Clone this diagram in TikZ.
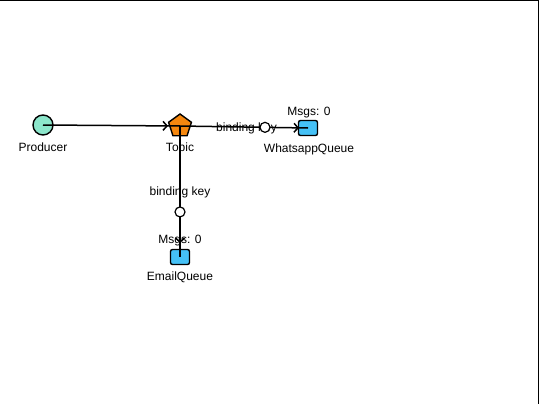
\documentclass[tikz,border=0pt]{standalone}
\usepackage{fontspec}
\setmainfont{Liberation Sans}
\usetikzlibrary{shapes.geometric,arrows.meta,decorations.markings}
\definecolor{prodfill}{HTML}{8CE6CB}
\definecolor{topicfill}{HTML}{F5870F}
\definecolor{queuefill}{HTML}{45C1F6}
\begin{document}
\begin{tikzpicture}[x=1pt,y=-1pt,
	every node/.style={font=\fontsize{12}{14}\selectfont},
	lbl/.style={yshift=-1pt},
	prodnode/.style={circle,draw,line width=1.4pt,fill=prodfill,minimum size=20pt,inner sep=0pt},
	topicnode/.style={regular polygon,regular polygon sides=5,draw,line width=1.4pt,fill=topicfill,minimum size=24pt,inner sep=0pt},
	queuenode/.style={rectangle,rounded corners=2pt,draw,line width=1.4pt,fill=queuefill,minimum width=19pt,minimum height=15pt,inner sep=0pt},
	keydot/.style={circle,draw,line width=1.2pt,fill=white,minimum size=10pt,inner sep=0pt},
	edge/.style={line width=1.5pt,postaction={decorate},decoration={markings,mark=at position #1 with {\arrow{Straight Barb[length=4pt,width=9pt,line width=1.5pt]}}}}]
\useasboundingbox (0,0) rectangle (540,404);
\def\yA{125};
\def\yB{128};
% frame
\draw[line width=1.5pt] (0,0.7) -- (538.6,0.7) -- (538.6,404);
% nodes
\node[prodnode] (prod) at (43,\yA) {};
\node[topicnode] (topic) at (180,126) {};
\node[queuenode] (wq) at (308,\yB) {};
\node[queuenode] (eq) at (180,257) {};
\node[lbl] (prodlbl) at (43,146) {Producer};
\node[lbl] (topiclbl) at (180,147) {Topic};
\node[lbl] (wqlbl) at (309,148) {WhatsappQueue};
\node[lbl] (eqlbl) at (180,276) {EmailQueue};
\node[lbl] (wqmsgs) at (309,112) {Msgs: 0};
\node[lbl] (eqmsgs) at (180,240) {Msgs: 0};
% bindings
\draw[edge=-12pt] (prod.center) -- (topic.center);
\draw[edge=-9pt] (topic.center) -- node[lbl,pos=0.52] (wqkey) {binding key} node[keydot,pos=0.664] (wqdot) {} (wq.center);
\draw[edge=-14pt] (topic.center) -- node[lbl,pos=0.5] (eqkey) {binding key} node[keydot,pos=0.656] (eqdot) {} (eq.center);
\end{tikzpicture}
\end{document}
